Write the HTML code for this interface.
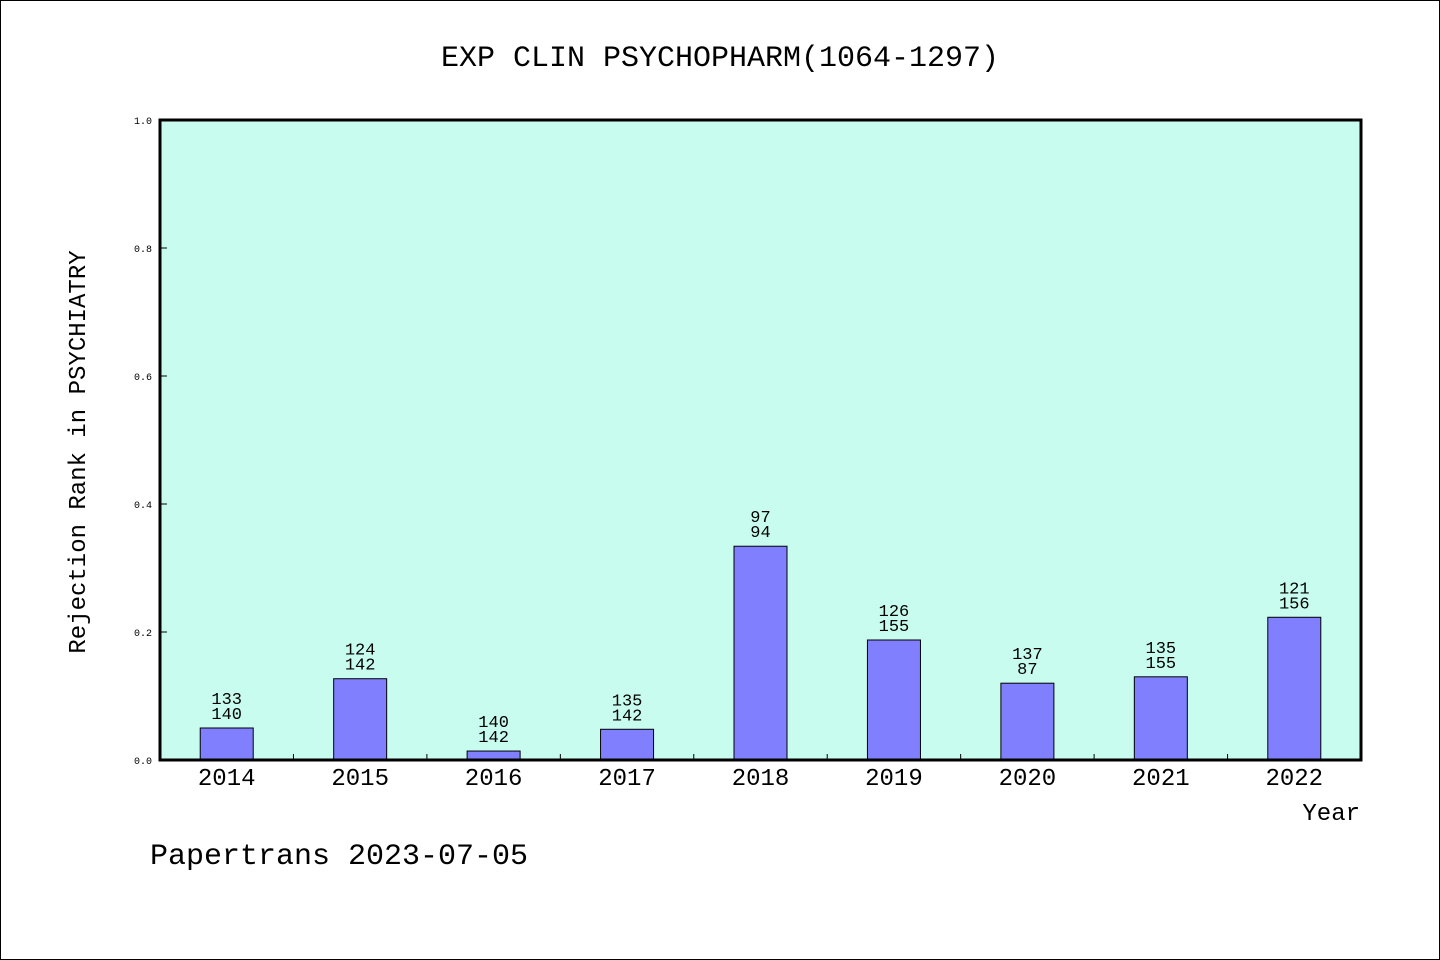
<!DOCTYPE html>
<html><head><meta charset="utf-8"><style>
body{margin:0;background:#fff}
svg{display:block}
text{font-family:"Liberation Mono","DejaVu Sans Mono",monospace;fill:#000}
</style></head><body>
<svg id="c" width="1440" height="960" xmlns="http://www.w3.org/2000/svg">
<rect x="0.5" y="0.5" width="1439" height="959" fill="#fff" stroke="#000"/>
<text x="720" y="66" font-size="30" text-anchor="middle">EXP CLIN PSYCHOPHARM(1064-1297)</text>
<rect x="160" y="120" width="1201" height="640" fill="#c8fcee"/>
<g id="marks"></g>
<rect x="160" y="120" width="1201" height="640" fill="none" stroke="#000" stroke-width="3"/>
<text transform="translate(85,452) rotate(-90)" font-size="24" text-anchor="middle">Rejection Rank in PSYCHIATRY</text>
<text x="1360" y="820" font-size="24" text-anchor="end">Year</text>
<text x="150" y="864" font-size="30">Papertrans 2023-07-05</text>
</svg>
<script>
const categories=["2014","2015","2016","2017","2018","2019","2020","2021","2022"];
const values=[0.05,0.127,0.014,0.048,0.334,0.1875,0.12,0.13,0.223];
const labelTop=["133","124","140","135","97","126","137","135","121"];
const labelBottom=["140","142","142","142","94","155","87","155","156"];
const yTicks=[0,0.2,0.4,0.6,0.8,1.0];
const X0=160,W=1201,Y0=760,H=640;
const slot=W/categories.length;
const x=i=>X0+slot*(i+0.5);
const y=v=>Y0-v*H;
const g=document.getElementById('marks');
const NS="http://www.w3.org/2000/svg";
function mk(t,a){const e=document.createElementNS(NS,t);for(const k in a)e.setAttribute(k,a[k]);g.appendChild(e);return e;}
yTicks.forEach(t=>{
 const l=mk('line',{x1:X0,x2:X0+7,y1:y(t),y2:y(t),stroke:'#000'});
 
 
 const tx=mk('text',{x:X0-8,y:y(t)+4,'font-size':10,'text-anchor':'end'});
 tx.textContent=t.toFixed(1);
 
 
});
for(let i=1;i<categories.length;i++){
 const l=mk('line',{x1:X0+slot*i,x2:X0+slot*i,y1:Y0,y2:Y0-6,stroke:'#000'});
 
 
}
categories.forEach((c,i)=>{
 const bw=53;
 const r=mk('rect',{x:x(i)-bw/2,y:y(values[i]),width:bw,height:values[i]*H,fill:'#8080ff',stroke:'#000','stroke-width':1});
 
 
 const t1=mk('text',{x:x(i),y:y(values[i])-24,'font-size':17,'text-anchor':'middle'});
 t1.textContent=labelTop[i];
 
 
 const t2=mk('text',{x:x(i),y:y(values[i])-9,'font-size':17,'text-anchor':'middle'});
 t2.textContent=labelBottom[i];
 
 
 const xl=mk('text',{x:x(i),y:Y0+25,'font-size':24,'text-anchor':'middle'});
 xl.textContent=c;
 
 
});
</script>
</body></html>
